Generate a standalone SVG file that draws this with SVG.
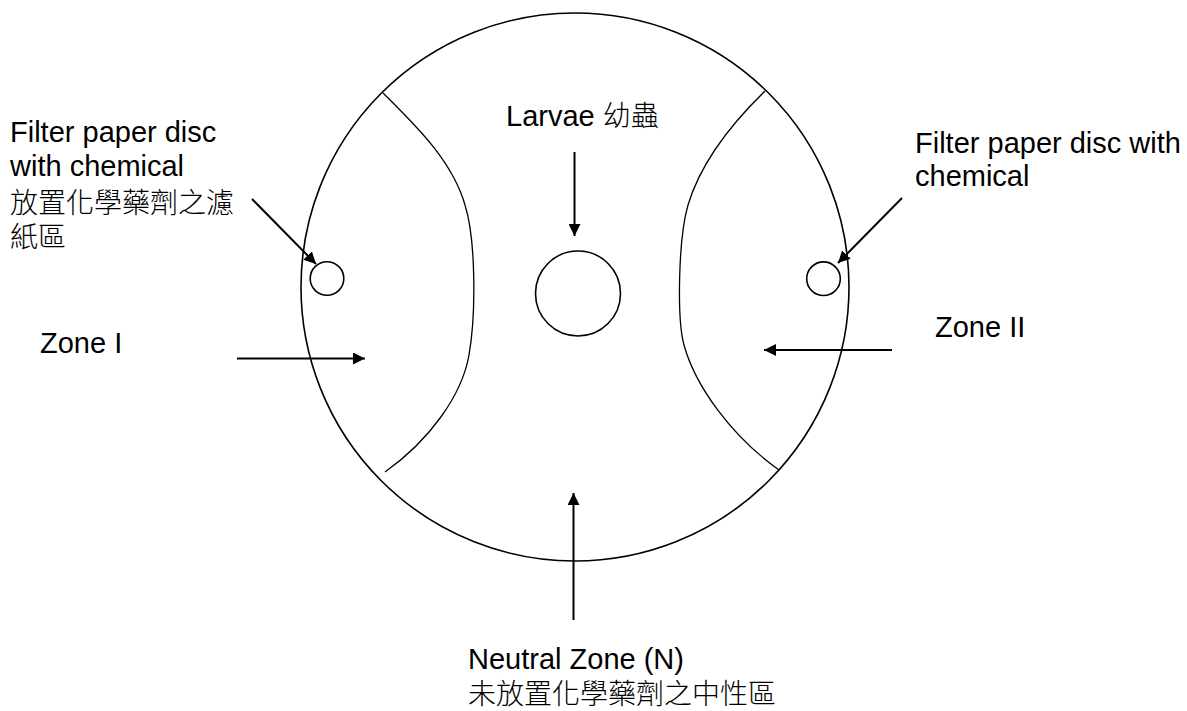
<svg xmlns="http://www.w3.org/2000/svg" width="1187" height="711" viewBox="0 0 1187 711">
  <style>
    .lbl { font-family: "Liberation Sans", Arial, "Noto Sans CJK TC", sans-serif; font-size: 29px; fill: #000; }
    .cjk { font-family: "Noto Sans CJK TC", "Noto Sans CJK SC", sans-serif; font-size: 28px; font-weight: 300; fill: #000; }
    .ring { fill: #fff; stroke: #000; stroke-width: 1.6; }
    .zone { fill: none; stroke: #000; stroke-width: 1.3; }
    .arrow { fill: none; stroke: #000; stroke-width: 2; marker-end: url(#head); }
  </style>
  <defs>
    <marker id="head" markerUnits="userSpaceOnUse" markerWidth="13" markerHeight="12" refX="12" refY="6" orient="auto">
      <path d="M0,0 L12,6 L0,12 Z" fill="#000"/>
    </marker>
  </defs>
  <rect width="1187" height="711" fill="#fff"/>

  <!-- Petri dish outline -->
  <g id="dish">
    <circle class="ring" cx="575" cy="287" r="274"/>
  </g>

  <!-- Zone boundaries -->
  <g id="zone-boundaries">
    <path class="zone" d="M383,93 C415,125 452,160 465,205 C476,240 476,315 469,355 C462,395 430,440 385,472"/>
    <path class="zone" d="M765,91 C730,125 700,165 688,205 C678,240 677,320 684,345 C695,385 730,435 779,470"/>
  </g>

  <!-- Release point for larvae -->
  <g id="larvae-release">
    <circle class="ring" cx="578" cy="293.5" r="42.5"/>
  </g>

  <!-- Filter paper discs -->
  <g id="disc-left">
    <circle class="ring" cx="327" cy="278.5" r="16.8"/>
  </g>
  <g id="disc-right">
    <circle class="ring" cx="823.5" cy="278.7" r="16.8"/>
  </g>

  <!-- Connectors -->
  <g id="connectors">
    <line class="arrow" x1="252" y1="199" x2="316" y2="264"/>
    <line class="arrow" x1="902" y1="198" x2="838" y2="263"/>
    <line class="arrow" x1="574.5" y1="152" x2="574.5" y2="236"/>
    <line class="arrow" x1="573.5" y1="620" x2="573.5" y2="493"/>
    <line class="arrow" x1="237" y1="358.5" x2="365" y2="358.5"/>
    <line class="arrow" x1="892" y1="350" x2="764" y2="350"/>
  </g>

  <!-- Labels -->
  <g id="label-disc-left">
    <text class="lbl" x="10" y="142">Filter paper disc</text>
    <text class="lbl" x="10" y="176">with chemical</text>
    <text class="cjk" x="10" y="213">放置化學藥劑之濾</text>
    <text class="cjk" x="10" y="247">紙區</text>
  </g>
  <g id="label-disc-right">
    <text class="lbl" x="915" y="153">Filter paper disc with</text>
    <text class="lbl" x="915" y="186">chemical</text>
  </g>
  <g id="label-larvae">
    <text x="506" y="126"><tspan class="lbl">Larvae </tspan><tspan class="cjk">幼蟲</tspan></text>
  </g>
  <g id="label-zone-1">
    <text class="lbl" x="40" y="353">Zone I</text>
  </g>
  <g id="label-zone-2">
    <text class="lbl" x="935" y="337">Zone II</text>
  </g>
  <g id="label-neutral">
    <text class="lbl" x="468" y="669">Neutral Zone (N)</text>
    <text class="cjk" x="468" y="704">未放置化學藥劑之中性區</text>
  </g>
</svg>
